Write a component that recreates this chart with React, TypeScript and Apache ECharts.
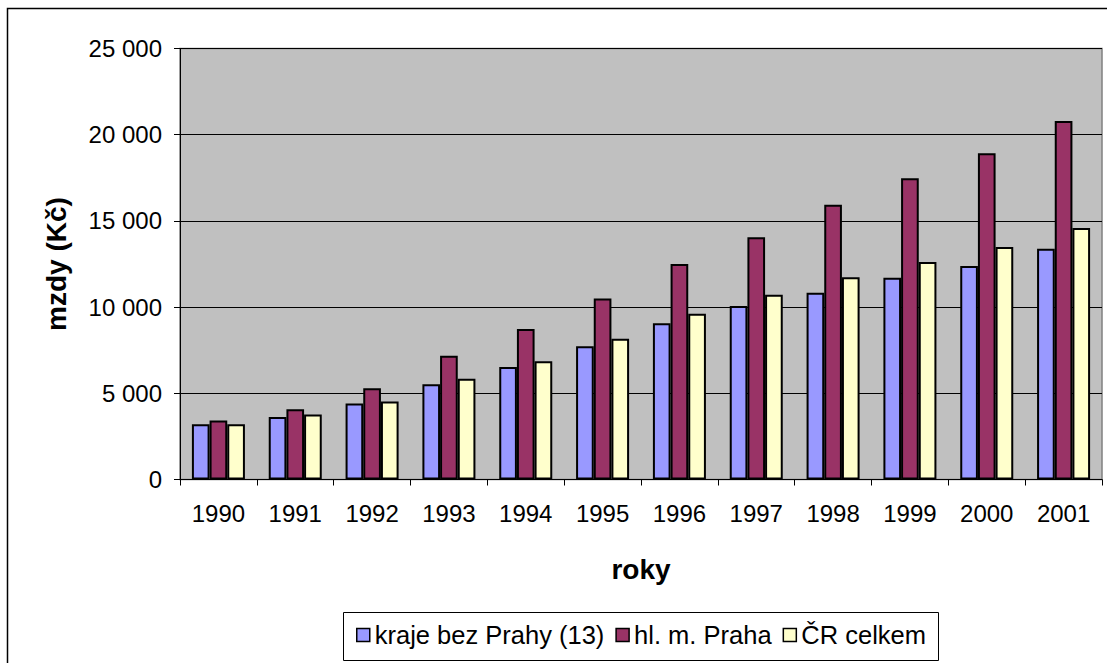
import React, { useEffect, useRef } from "react";
import * as echarts from "echarts";

const years = ["1990", "1991", "1992", "1993", "1994", "1995", "1996", "1997", "1998", "1999", "2000", "2001"];
const krajeBezPrahy = [3210, 3630, 4410, 5530, 6520, 7730, 9070, 10060, 10830, 11700, 12380, 13390];
const praha = [3420, 4080, 5300, 7180, 8730, 10500, 12500, 14050, 15930, 17470, 18920, 20800];
const crCelkem = [3210, 3770, 4520, 5850, 6860, 8170, 9610, 10715, 11725, 12615, 13490, 14590];
const seriesNames = ["kraje bez Prahy (13)", "hl. m. Praha", "ČR celkem"];
const yTicks = { min: 0, max: 25000, interval: 5000 };

const FONT = "'Liberation Sans', Arial, sans-serif";

export default function App() {
  const ref = useRef<HTMLDivElement>(null);
  useEffect(() => {
    if (!ref.current) return;
    const chart = echarts.init(ref.current, null, { renderer: "svg" });
    const fmt = (v: number) => String(v).replace(/\B(?=(\d{3})+(?!\d))/g, " ");
    const barStyle = (color: string) => ({ color, borderColor: "#000", borderWidth: 2 });
    chart.setOption({
      animation: false,
      backgroundColor: "#fff",
      textStyle: { fontFamily: FONT },
      graphic: [
        {
          type: "rect",
          shape: { x: 7.5, y: 8.5, width: 1120, height: 700 },
          style: { fill: "none", stroke: "#000", lineWidth: 1.5 },
          silent: true,
        },
        {
          type: "rect",
          z: -1,
          shape: { x: 180, y: 48.5, width: 922, height: 431 },
          style: { fill: "#C0C0C0", stroke: "#808080", lineWidth: 1.5 },
          silent: true,
        },
        {
          type: "rect",
          shape: { x: 343.5, y: 612.5, width: 595, height: 48 },
          style: { fill: "#fff", stroke: "#000", lineWidth: 1 },
          silent: true,
        },
      ],
      grid: { left: 180, top: 48.5, width: 922, height: 431, containLabel: false },
      legend: {
        top: 620,
        left: 352,
        z: 10,
        data: seriesNames,
        icon: "rect",
        itemWidth: 13,
        itemHeight: 13,
        itemGap: 11,
        padding: [2, 4, 2, 4],
        textStyle: { fontFamily: FONT, fontSize: 25.5, color: "#000", padding: [0, 0, 0, 0] },
        itemStyle: { borderColor: "#000", borderWidth: 1.5 },
      },
      xAxis: {
        type: "category",
        data: years,
        name: "roky",
        nameLocation: "middle",
        nameGap: 76,
        nameTextStyle: { fontFamily: FONT, fontSize: 28, fontWeight: "bold", color: "#000" },
        axisLine: { lineStyle: { color: "#000", width: 1 } },
        axisTick: { show: true, length: 6, lineStyle: { color: "#000" } },
        axisLabel: { fontFamily: FONT, fontSize: 24, color: "#000", margin: 22 },
      },
      yAxis: {
        type: "value",
        min: yTicks.min,
        max: yTicks.max,
        interval: yTicks.interval,
        name: "mzdy (Kč)",
        nameLocation: "middle",
        nameGap: 110,
        nameTextStyle: { fontFamily: FONT, fontSize: 28, fontWeight: "bold", color: "#000" },
        axisLine: { show: true, lineStyle: { color: "#000", width: 1 } },
        axisTick: { show: true, length: 6, lineStyle: { color: "#000" } },
        axisLabel: { fontFamily: FONT, fontSize: 24, color: "#000", margin: 18, formatter: fmt },
        splitLine: { show: true, lineStyle: { color: "#000", width: 1 } },
      },
      series: [
        { name: seriesNames[0], type: "bar", data: krajeBezPrahy, itemStyle: barStyle("#9999FF"), barGap: "0%", barCategoryGap: "31%" },
        { name: seriesNames[1], type: "bar", data: praha, itemStyle: barStyle("#993366"), barGap: "0%", barCategoryGap: "31%" },
        { name: seriesNames[2], type: "bar", data: crCelkem, itemStyle: barStyle("#FFFFCC"), barGap: "0%", barCategoryGap: "31%" },
      ],
    });
    return () => chart.dispose();
  }, []);
  return (
    <div
      ref={ref}
      style={{ position: "absolute", left: 0, top: 0, width: 1107, height: 663 }}
    />
  );
}
